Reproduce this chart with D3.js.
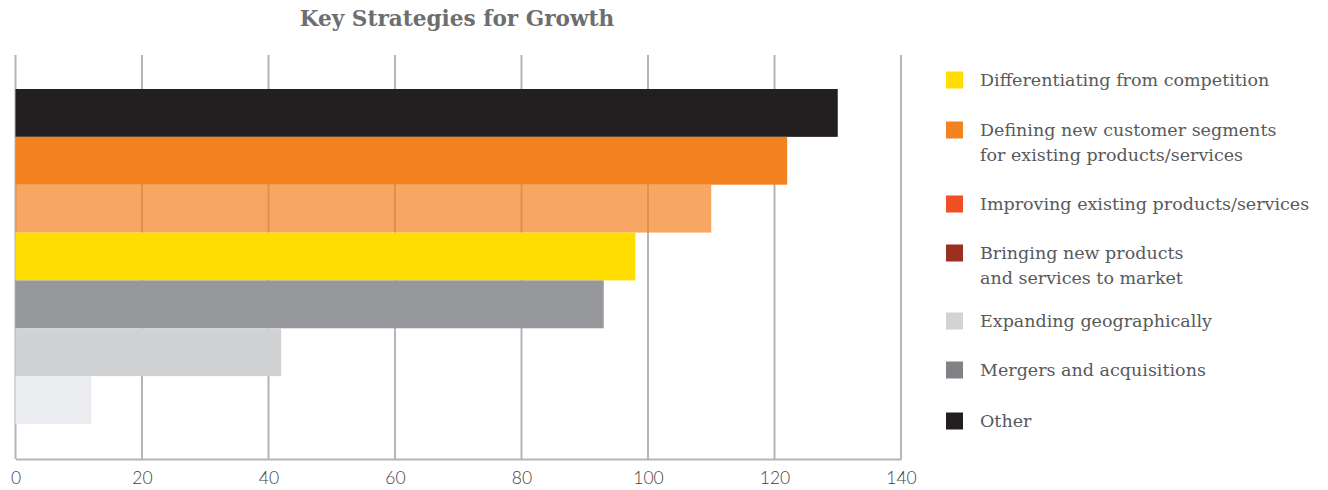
<!DOCTYPE html>
<html>
<head>
<meta charset="utf-8">
<script src="https://cdn.jsdelivr.net/npm/d3@7"></script>
<style>
  html, body { margin: 0; padding: 0; background: #fff; }
  svg { display: block; }
</style>
</head>
<body>
<svg id="chart" width="1328" height="490"></svg>
<script>
// ---- data ----
const title = "Key Strategies for Growth";
const barKeys = ["b1", "b2", "b3", "b4", "b5", "b6", "b7"];
const barValues = [130, 122, 110, 98, 93, 42, 12];
const barColors = ["#231f20", "#f58220", "#f58220", "#ffdd00", "#97989c", "#d1d2d4", "#ecedf1"];
const barOpacity = [1, 1, 0.7, 1, 1, 1, 1];
const xTicks = [0, 20, 40, 60, 80, 100, 120, 140];
const legendLabels = [
  ["Differentiating from competition"],
  ["Defining new customer segments", "for existing products/services"],
  ["Improving existing products/services"],
  ["Bringing new products", "and services to market"],
  ["Expanding geographically"],
  ["Mergers and acquisitions"],
  ["Other"]
];
const legendColors = ["#ffdd00", "#f58220", "#f04e23", "#9b3022", "#d1d3d4", "#808285", "#231f20"];

// ---- layout ----
const svg = d3.select("#chart");
const x = d3.scaleLinear().domain([0, 140]).range([15.5, 901]);
const y = d3.scaleBand().domain(barKeys).range([89, 424]).padding(0);
const plotTop = 55, plotBottom = 459;

// title
svg.append("text")
  .attr("x", 457).attr("y", 26)
  .attr("text-anchor", "middle")
  .attr("font-family", "'DejaVu Serif', serif")
  .attr("font-weight", "bold")
  .attr("font-size", 21.6)
  .attr("fill", "#6d6e70")
  .text(title);

// gridlines
svg.append("g").selectAll("line").data(xTicks).join("line")
  .attr("x1", d => x(d)).attr("x2", d => x(d))
  .attr("y1", plotTop).attr("y2", plotBottom)
  .attr("stroke", "#b4b4b9").attr("stroke-width", 2);

// bottom axis
const axis = d3.axisBottom(x).tickValues(xTicks).tickSize(0).tickPadding(13);
const ag = svg.append("g").attr("transform", `translate(0,${plotBottom})`).call(axis);
ag.select(".domain").attr("stroke", "#b4b4b9").attr("stroke-width", 2);
ag.selectAll("text")
  .attr("font-family", "Lato, 'Open Sans', sans-serif")
  .attr("font-weight", 300)
  .attr("font-size", 17.5)
  .attr("fill", "#3f3f41");

// bars
svg.append("g").selectAll("rect").data(barValues).join("rect")
  .attr("x", x(0))
  .attr("y", (d, i) => y(barKeys[i]))
  .attr("width", d => x(d) - x(0))
  .attr("height", y.bandwidth())
  .attr("fill", (d, i) => barColors[i])
  .attr("fill-opacity", (d, i) => barOpacity[i]);

// legend
const legendY = [80, 130, 204, 253, 321, 370, 421];
const lg = svg.append("g");
legendLabels.forEach((lines, i) => {
  lg.append("rect")
    .attr("x", 946).attr("y", legendY[i] - 8.5)
    .attr("width", 17).attr("height", 17)
    .attr("fill", legendColors[i]);
  const t = lg.append("text")
    .attr("x", 980).attr("y", legendY[i] + 6)
    .attr("font-family", "'DejaVu Serif', serif")
    .attr("font-size", 17.5)
    .attr("fill", "#58595b");
  lines.forEach((line, j) => {
    t.append("tspan").attr("x", 980).attr("dy", j === 0 ? 0 : 25).text(line);
  });
});
</script>
</body>
</html>
